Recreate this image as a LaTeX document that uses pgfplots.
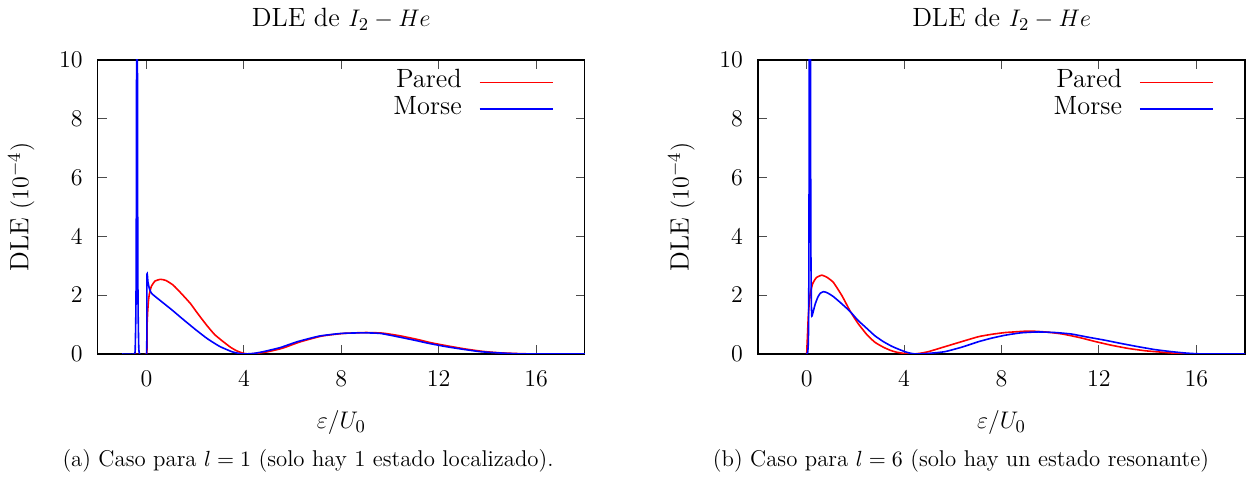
\documentclass[border=0pt]{standalone}
\usepackage{pgfplots}
\pgfplotsset{compat=1.18}
\definecolor{gpred}{RGB}{255,0,0}
\definecolor{gpblue}{RGB}{0,0,255}
\newcommand{\bigf}{\fontsize{13.2}{15.8}\selectfont}
\newcommand{\capf}{\fontsize{11.4}{13.6}\selectfont}

\pgfplotstableread{
x y
-0.5 0
0.0 0
0.02 0.9
0.05 1.45
0.08 1.8
0.12 2.05
0.2 2.3
0.35 2.48
0.58 2.54
0.8 2.5
1.1 2.34
1.45 2.04
1.8 1.72
2.1 1.38
2.47 0.98
2.8 0.66
3.15 0.42
3.45 0.23
3.7 0.11
3.95 0.03
4.2 0
4.6 0.03
5.0 0.08
5.6 0.2
6.3 0.41
7.2 0.61
8.1 0.70
9.0 0.73
9.7 0.71
10.4 0.62
11.1 0.5
11.7 0.38
12.4 0.27
13.1 0.17
13.8 0.09
14.5 0.04
15.4 0.01
16.2 0
18 0
}\paredA

\pgfplotstableread{
x y
-1.0 0
-0.5 0
-0.46 0.3
-0.43 2
-0.41 8
-0.39 30
-0.37 8
-0.35 2
-0.32 0.3
-0.28 0
0.0 0
0.02 2.68
0.06 2.45
0.12 2.22
0.21 2.06
0.5 1.86
1.0 1.53
1.5 1.18
2.0 0.84
2.5 0.52
3.0 0.26
3.5 0.08
3.8 0.02
4.0 0
4.4 0.02
4.8 0.08
5.5 0.22
6.2 0.42
7.1 0.61
8.0 0.70
8.9 0.72
9.6 0.70
10.3 0.59
11.0 0.47
11.6 0.36
12.3 0.25
13.0 0.16
13.7 0.08
14.4 0.04
15.3 0.005
16 0
18 0
}\morseA

\pgfplotstableread{
x y
0.0 0
0.03 0.6
0.07 1.35
0.14 2.03
0.25 2.4
0.4 2.6
0.62 2.68
0.85 2.6
1.1 2.43
1.45 1.98
1.79 1.45
2.1 1.05
2.47 0.66
2.8 0.4
3.15 0.23
3.45 0.12
3.7 0.06
4.0 0.02
4.38 0
4.7 0.03
5.0 0.08
5.68 0.25
6.4 0.43
7.06 0.59
7.6 0.67
8.16 0.73
9.12 0.78
9.8 0.75
10.5 0.68
11.2 0.56
11.87 0.42
12.5 0.3
13.2 0.19
13.9 0.11
14.6 0.06
15.2 0.02
15.9 0
18 0
}\paredB

\pgfplotstableread{
x y
0.0 0
0.04 0.05
0.07 0.5
0.09 3
0.11 12
0.13 30
0.15 12
0.17 4
0.19 1.8
0.21 1.29
0.27 1.45
0.35 1.7
0.45 1.92
0.55 2.06
0.69 2.12
0.85 2.08
1.1 1.95
1.45 1.7
1.79 1.44
2.1 1.15
2.47 0.87
2.8 0.62
3.15 0.42
3.5 0.26
3.84 0.14
4.1 0.06
4.3 0.02
4.52 0
5.0 0.02
5.68 0.08
6.4 0.24
7.06 0.42
7.6 0.54
8.16 0.64
8.8 0.72
9.5 0.75
10.2 0.73
10.87 0.68
11.5 0.58
12.24 0.47
12.9 0.36
13.6 0.25
14.3 0.15
14.98 0.08
15.6 0.03
16.3 0
18 0
}\morseB

\pgfplotsset{dle/.style={
  scale only axis, width=243.5pt, height=147pt,
  xmin=-2, xmax=18, ymin=0, ymax=10,
  xtick={0,4,8,12,16}, ytick={0,2,4,6,8,10},
  tick align=inside, tick pos=both, major tick length=4.5pt,
  tick style={black!70, line width=0.5pt},
  axis line style={black, line width=0.6pt},
  ticklabel style={font=\bigf},
  xticklabel style={yshift=-5pt},
  yticklabel style={xshift=-4pt},
  label style={font=\bigf},
  xlabel={$\varepsilon/U_0$}, ylabel={DLE $(10^{-4})$},
  xlabel style={at={(axis description cs:0.5,-0.234)}, anchor=center},
  ylabel style={at={(axis description cs:-0.157,0.5)}, anchor=center},
  legend style={draw=none, fill=none, inner sep=0pt, font=\bigf,
    at={(axis description cs:1,1)}, anchor=north east, xshift=-15.5pt, yshift=-4.5pt,
    nodes={inner sep=0.5pt, text height=8.8pt, text depth=3.5pt},
    /tikz/every odd column/.append style={column sep=8pt}},
  legend plot pos=right, legend cell align=right,
  legend image code/.code={\draw[#1, line width=0.8pt] (0pt,0pt) -- (36.5pt,0pt);},
}}

\begin{document}
\begin{tikzpicture}
\useasboundingbox (0,0) rectangle (630pt,241pt);
\begin{axis}[dle, at={(48.9pt,64pt)}, anchor=south west]
\addplot[color=gpred, line width=0.8pt, smooth, tension=0.3] table[x=x,y=y] {\paredA};
\addlegendentry{Pared}
\addplot[color=gpblue, line width=0.8pt, smooth, tension=0.3] table[x=x,y=y] {\morseA};
\addlegendentry{Morse}
\end{axis}
\begin{axis}[dle, at={(379pt,64pt)}, anchor=south west]
\addplot[color=gpred, line width=0.8pt, smooth, tension=0.3] table[x=x,y=y] {\paredB};
\addlegendentry{Pared}
\addplot[color=gpblue, line width=0.8pt, smooth, tension=0.3] table[x=x,y=y] {\morseB};
\addlegendentry{Morse}
\end{axis}
\node[anchor=base, font=\bigf] at (170.6pt,227.6pt) {DLE de $I_2 - He$};
\node[anchor=base, font=\bigf] at (500.8pt,227.6pt) {DLE de $I_2 - He$};
\node[anchor=base, font=\capf] at (154pt,7.7pt) {(a) Caso para $l = 1$ (solo hay 1 estado localizado).};
\node[anchor=base, font=\capf] at (480.5pt,7.7pt) {(b) Caso para $l = 6$ (solo hay un estado resonante)};
\end{tikzpicture}
\end{document}
